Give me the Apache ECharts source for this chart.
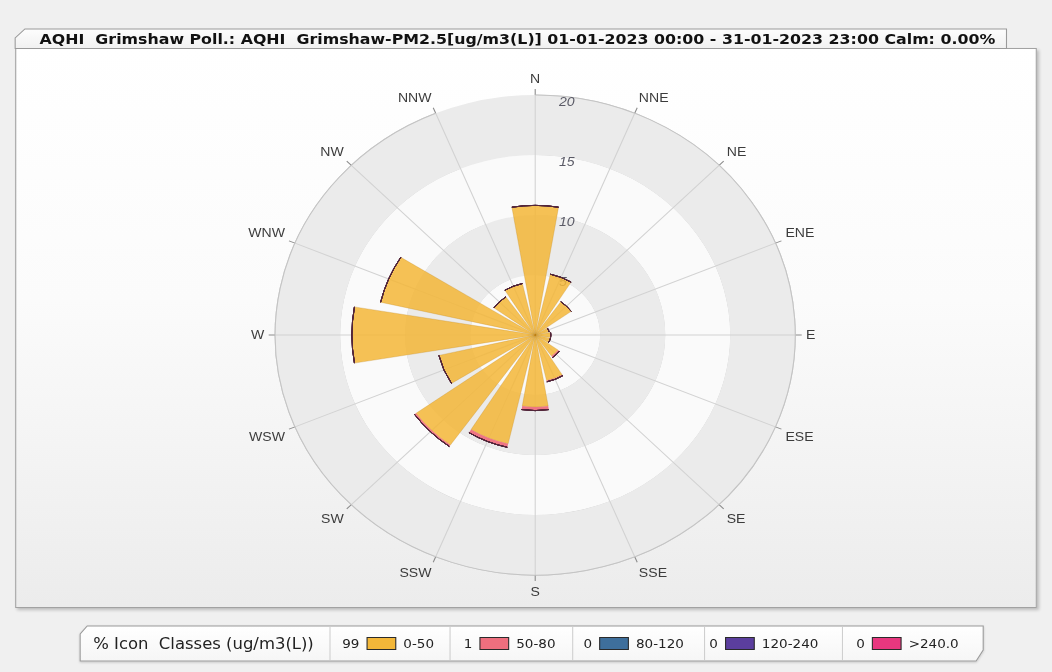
<!DOCTYPE html>
<html>
<head>
<meta charset="utf-8">
<title>AQHI Grimshaw PM2.5 pollution rose</title>
<script src="https://cdn.jsdelivr.net/npm/echarts@6/dist/echarts.min.js"></script>
<style>
  html, body { margin: 0; padding: 0; }
  body { width: 1052px; height: 672px; overflow: hidden; background: #f0f0f0; }
  /* the whole panel is laid out 971px wide and widened to the window */
  #stage { position: absolute; left: 0; top: 0; width: 971px; height: 672px;
           transform: scaleX(1.08342); transform-origin: 0 0; }
  #frame { position: absolute; left: 14px; top: 48px; width: 941px; height: 558px;
           border: 1px solid #a2a2a2;
           background: linear-gradient(#ffffff 0%, #fbfbfb 45%, #ececec 100%);
           box-shadow: 2px 2px 3px rgba(0,0,0,0.22); }
  #chart { position: absolute; left: 0; top: 0; width: 971px; height: 672px; }
</style>
</head>
<body>
<div id="stage">
  <div id="frame"></div>
  <div id="chart"></div>
</div>
<script>
// wind sectors, clockwise from north
const directions = ['N', 'NNE', 'NE', 'ENE', 'E', 'ESE', 'SE', 'SSE',
                    'S', 'SSW', 'SW', 'WSW', 'W', 'WNW', 'NW', 'NNW'];

// share of hours (%) per sector and PM2.5 class
const class0to50    = [10.8, 5.2, 3.4, 1.1, 1.2, 1.2, 2.15, 3.9, 6.0, 9.3, 11.25, 7.6, 14.1, 12.2, 3.9, 4.4];
const class50to80   = [0, 0, 0, 0, 0, 0, 0.15, 0.1, 0.3, 0.3, 0.15, 0, 0, 0, 0, 0];
const class80to120  = [0, 0, 0, 0, 0, 0, 0, 0, 0, 0, 0, 0, 0, 0, 0, 0];
const class120to240 = [0, 0, 0, 0, 0, 0, 0, 0, 0, 0, 0, 0, 0, 0, 0, 0];
const classAbove240 = [0, 0, 0, 0, 0, 0, 0, 0, 0, 0, 0, 0, 0, 0, 0, 0];

// legend: class names and overall share (%)
const classNames  = ['0-50', '50-80', '80-120', '120-240', '>240.0'];
const classShares = [99, 1, 0, 0, 0];

// radial scale
const radiusMax = 20;
const radiusStep = 5;

const titleText = 'AQHI  Grimshaw Poll.: AQHI  Grimshaw-PM2.5[ug/m3(L)] 01-01-2023 00:00 - 31-01-2023 23:00 Calm: 0.00%';
const legendTitle = '% Icon  Classes (ug/m3(L))';

// ---- styling ----
const classColors = ['#F3B739', '#EE6F7E', '#3E6F9C', '#5B3E9E', '#E8377F'];
const classSeriesData = [class0to50, class50to80, class80to120, class120to240, classAbove240];
const edgeColor = '#52253a';

const series = classSeriesData.map((vals, i) => {
  const base = {
    name: classNames[i],
    type: 'bar',
    coordinateSystem: 'polar',
    stack: 'rose',
    data: vals,
    barCategoryGap: '15%',
    silent: true
  };
  if (i === 0) {
    base.itemStyle = { color: classColors[0], opacity: 0.86,
                       borderColor: 'rgba(185,125,15,0.4)', borderWidth: 0.7 };
  } else if (i === 1) {
    base.itemStyle = { color: classColors[1], opacity: 0.95, borderWidth: 0 };
  } else {
    base.itemStyle = { color: classColors[i], borderColor: edgeColor, borderWidth: 0.9 };
  }
  return base;
});

// ---- title tab and legend tab ----
const graphics = [];
graphics.push({
  type: 'polygon', z: 100,
  shape: { points: [[14, 48.5], [14, 38], [23, 29], [929, 29], [929, 48.5]] },
  style: { fill: new echarts.graphic.LinearGradient(0, 0, 0, 1,
            [{ offset: 0, color: '#fdfdfd' }, { offset: 1, color: '#f1f1f1' }]),
           stroke: '#9a9a9a', lineWidth: 1 }
});
graphics.push({
  type: 'text', z: 101,
  style: { text: titleText, x: 36.5, y: 39, fill: '#111',
           font: 'bold 14.6px "DejaVu Sans"', textVerticalAlign: 'middle', verticalAlign: 'middle' }
});

const legTop = 626, legBottom = 661;
graphics.push({
  type: 'polygon', z: 100,
  shape: { points: [[74, legBottom], [74, legTop + 8], [80.5, legTop], [907.5, legTop],
                    [907.5, legBottom - 11], [901, legBottom]] },
  style: { fill: new echarts.graphic.LinearGradient(0, 0, 0, 1,
            [{ offset: 0, color: '#ffffff' }, { offset: 1, color: '#f6f6f6' }]),
           stroke: '#9a9a9a', lineWidth: 1, shadowColor: 'rgba(0,0,0,0.18)', shadowBlur: 2, shadowOffsetY: 1 }
});
graphics.push({
  type: 'text', z: 101,
  style: { text: legendTitle, x: 86, y: legTop + 17.5, fill: '#222',
           font: '15.2px "DejaVu Sans"', textVerticalAlign: 'middle', verticalAlign: 'middle' }
});

const sepX = [304.6, 415.4, 528.6, 650.3, 777.6];
const boxX = [338.8, 443, 553.5, 669.7, 805.2];
const boxW = 26.5, boxH = 12;
sepX.forEach(x => graphics.push({
  type: 'line', z: 101,
  shape: { x1: x, y1: legTop + 1, x2: x, y2: legBottom - 1 },
  style: { stroke: '#cfcfcf', lineWidth: 1 }
}));
classNames.forEach((name, i) => {
  const cy = legTop + 17.5;
  graphics.push({
    type: 'text', z: 101,
    style: { text: String(classShares[i]), x: boxX[i] - 7, y: cy, fill: '#222',
             font: '12.5px "DejaVu Sans"', textAlign: 'right', align: 'right',
             textVerticalAlign: 'middle', verticalAlign: 'middle' }
  });
  graphics.push({
    type: 'rect', z: 101,
    shape: { x: boxX[i], y: cy - boxH / 2, width: boxW, height: boxH },
    style: { fill: classColors[i], stroke: '#2a2a2a', lineWidth: 1 }
  });
  graphics.push({
    type: 'text', z: 101,
    style: { text: name, x: boxX[i] + boxW + 7, y: cy, fill: '#222',
             font: '12.5px "DejaVu Sans"', textVerticalAlign: 'middle', verticalAlign: 'middle' }
  });
});

const chart = echarts.init(document.getElementById('chart'), null, { renderer: 'svg' });
chart.setOption({
  animation: false,
  backgroundColor: 'transparent',
  polar: { center: [494, 335], radius: 240 },
  angleAxis: {
    type: 'category',
    data: directions,
    boundaryGap: false,
    startAngle: 90,
    clockwise: true,
    axisLine: { show: true, lineStyle: { color: '#c4c4c4', width: 1 } },
    axisTick: { show: true, length: 6, lineStyle: { color: '#8c8c8c' } },
    axisLabel: { margin: 10, color: '#3c3c3c', fontSize: 13, fontFamily: 'Liberation Sans' },
    splitLine: { show: true, lineStyle: { color: '#d2d2d2', width: 1 } }
  },
  radiusAxis: {
    type: 'value',
    min: 0,
    max: radiusMax,
    interval: radiusStep,
    axisLine: { show: false },
    axisTick: { show: false },
    axisLabel: {
      margin: -22,
      align: 'left',
      verticalAlign: 'top',
      color: '#5a5a66',
      fontSize: 13,
      fontStyle: 'italic',
      fontFamily: 'Liberation Sans',
      formatter: v => (v === 0 ? '' : String(v))
    },
    splitLine: { show: true, lineStyle: { color: '#cdcdcd', width: 1 } },
    splitArea: { show: true, areaStyle: { color: ['#fafafa', '#ebebeb'] } }
  },
  graphic: { elements: graphics },
  series: series
});
</script>
</body>
</html>
